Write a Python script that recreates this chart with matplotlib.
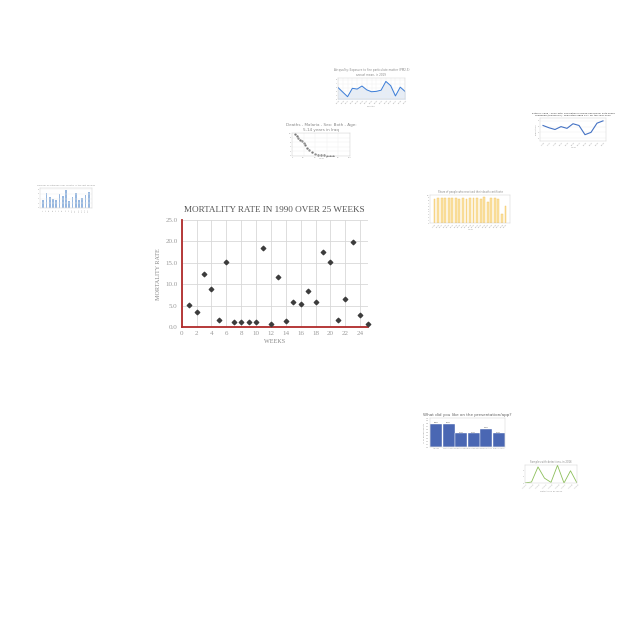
import matplotlib.pyplot as plt
import numpy as np

# Main chart data
weeks = list(range(1, 26))
mortality = [5.3, 3.5, 12.4, 9.0, 1.6, 15.1, 1.2, 1.3, 1.2, 1.2, 18.4, 0.85, 11.7, 1.55,
             5.9, 5.35, 8.5, 5.9, 17.6, 15.1, 1.7, 6.7, 19.8, 2.8, 0.7]
x_ticks = list(range(0, 25, 2))
y_ticks = [0, 5, 10, 15, 20, 25]

# Thumbnail data
air_vals = [6.0, 4.8, 3.6, 5.8, 5.6, 6.4, 5.4, 4.9, 5.0, 5.3, 7.6, 6.5, 3.8, 6.1, 5.0]
malaria_age = [5, 8, 11, 14, 17, 20, 23, 26, 30, 35, 40, 45, 50, 55, 60, 65, 70]
malaria_val = [9.5, 8.6, 7.8, 7.0, 6.6, 5.6, 4.6, 3.6, 2.6, 1.7, 1.0, 0.6, 0.4, 0.3, 0.2, 0.15, 0.1]
estonia_vals = [5.2, 4.8, 4.5, 5.0, 4.7, 5.5, 5.2, 3.6, 4.0, 5.6, 6.0]
yellow_vals = [8.6, 8.8, 8.9, 9.0, 8.8, 9.1, 8.8, 8.7, 8.9, 8.6, 9.1, 8.8, 9.0, 8.7, 9.2,
               7.6, 9.0, 9.1, 8.6, 3.2, 6.0]
blue_vals = [3.5, 6.5, 4.5, 3.8, 3.2, 5.8, 5.2, 7.8, 2.8, 4.8, 6.5, 3.5, 4.2, 5.5, 6.8]
like_labels = ["Interview", "Content feature", "Scientific feature", "Interactive feature",
               "Useful metrics", "Graphic design"]
like_vals = [0.81, 0.79, 0.47, 0.47, 0.63, 0.47]
green_vals = [0, 0.3, 5.0, 1.5, 0.2, 5.5, 0, 3.8, 0]

W = H = 640
fig = plt.figure(figsize=(6.4, 6.4), dpi=100)
fig.patch.set_facecolor("white")


def px_axes(x0, y0, x1, y1):
    return fig.add_axes([x0 / W, 1 - y1 / H, (x1 - x0) / W, (y1 - y0) / H])


serif = ["Liberation Serif", "DejaVu Serif"]
gray = "#9a9a9a"

# ============================ MAIN CHART =============================
ax = px_axes(181.7, 220, 367.6, 327.3)
ax.scatter(weeks, mortality, marker="D", s=5, color="#3c3c3c", zorder=3, clip_on=False)
ax.set_xlim(0, 25)
ax.set_ylim(0, 25)
ax.set_xticks(x_ticks)
ax.set_yticks(y_ticks)
ax.set_yticklabels([f"{v:.1f}" for v in y_ticks])
ax.set_xticks([25], minor=True)
ax.grid(True, which="both", color="#d8d8d8", linewidth=0.6)
ax.set_axisbelow(True)
for s in ["top", "right"]:
    ax.spines[s].set_visible(False)
for s in ["left", "bottom"]:
    ax.spines[s].set_color("#b02a2a")
    ax.spines[s].set_linewidth(1.3)
ax.tick_params(which="both", length=0, colors=gray, labelsize=5, pad=3)
for lab in ax.get_xticklabels() + ax.get_yticklabels():
    lab.set_family(serif)
ax.set_title("MORTALITY RATE IN 1990 OVER 25 WEEKS", family=serif, fontsize=6.6,
             color="#555555", pad=6)
ax.set_xlabel("WEEKS", family=serif, fontsize=4.4, color="#888888", labelpad=2)
ax.set_ylabel("MORTALITY RATE", family=serif, fontsize=4.4, color="#888888", labelpad=3)


def thumb_style(a, fs=1.4):
    a.tick_params(length=0, labelsize=fs, colors="#9a9a9a", pad=0.5)
    for s in a.spines.values():
        s.set_linewidth(0.3)
        s.set_color("#cccccc")


# ============================ THUMBNAILS =============================
# Air quality line chart (top centre)
a1 = px_axes(338, 78, 405, 99)
xs = np.arange(len(air_vals))
a1.plot(xs, air_vals, color="#3b7dd8", lw=0.7)
a1.fill_between(xs, air_vals, 0, color="#e6edf7")
a1.set_xlim(0, len(air_vals) - 1)
a1.set_ylim(3, 8.5)
a1.set_xticks(xs)
a1.set_xticklabels([str(2005 + i) for i in xs], rotation=45)
a1.set_yticks([3, 4, 5, 6, 7, 8])
a1.grid(True, color="#eeeeee", lw=0.3)
thumb_style(a1)
a1.set_title("Air quality: Exposure to fine particulate matter (PM2.5)\nannual mean, in 2019",
             fontsize=2, color="#888888", pad=1.5)
a1.set_xlabel("Country", fontsize=1.6, color="#999999", labelpad=1)

# Malaria scatter
a2 = px_axes(292, 133, 350, 156)
a2.scatter(malaria_age, malaria_val, s=0.5, color="#777777")
a2.set_xlim(0, 100)
a2.set_ylim(0, 10)
a2.grid(True, color="#eeeeee", lw=0.3)
thumb_style(a2)
a2.set_title("Deaths - Malaria - Sex: Both - Age:\n5-14 years in Iraq", fontsize=3,
             color="#888888", pad=1.5)
a2.set_xlabel("Year", fontsize=1.6, color="#999999", labelpad=0.5)

# Estonia line chart (right)
a3 = px_axes(540, 118, 606, 141)
xs = np.arange(len(estonia_vals))
a3.plot(xs, estonia_vals, color="#4472c4", lw=0.8)
a3.set_ylim(2.5, 6.5)
a3.set_xticks(xs)
a3.set_xticklabels([str(1995 + 2 * i) for i in xs], rotation=45)
a3.grid(True, axis="y", color="#eeeeee", lw=0.3)
thumb_style(a3)
a3.set_title("Estonia: 1995 - 2020 Total population in broad age group, both sexes\n"
             "combined (thousands) - Population aged 60+ for the year 2020",
             fontsize=1.7, color="#333333", pad=1.5)
a3.set_xlabel("Year", fontsize=1.6, color="#999999", labelpad=1)
a3.set_ylabel("Population", fontsize=1.6, color="#999999", labelpad=1)

# Yellow bar chart
a4 = px_axes(430, 195, 510, 223)
xs = np.arange(len(yellow_vals))
a4.bar(xs, yellow_vals, width=0.5, color="#fbe3a6", edgecolor="#f2c25a", lw=0.3)
a4.set_ylim(0, 10)
a4.set_xticks(xs)
a4.set_xticklabels([str(1999 + i) for i in xs], rotation=45)
a4.set_yticks(np.arange(0, 11))
thumb_style(a4)
a4.set_title("Share of people who received their death certificate", fontsize=1.8,
             color="#888888", pad=1.5)
a4.set_xlabel("Year", fontsize=1.6, color="#999999", labelpad=1)

# Left blue bar chart
a5 = px_axes(40, 188, 92, 208)
xs = np.arange(len(blue_vals))
a5.bar(xs, blue_vals, width=0.5, color="#98b8e0")
a5.set_ylim(0, 8.5)
a5.set_xticks(xs)
a5.set_xticklabels([f"C{i + 1}" for i in xs], rotation=90)
a5.grid(True, axis="y", color="#eeeeee", lw=0.3)
thumb_style(a5, 1.3)
a5.set_title("Number of outbreaks per country in the last decade", fontsize=1.6,
             color="#999999", pad=1.5)

# "What did you like" bar chart
a6 = px_axes(430, 418, 505, 447)
xs = np.arange(len(like_vals))
a6.bar(xs, like_vals, width=0.97, color="#4a67b3", edgecolor="white", lw=0.3)
for xi, v in zip(xs, like_vals):
    a6.text(xi, v + 0.03, f"{v:.0%}", ha="center", fontsize=1.6, color="#555555")
a6.set_xlim(-0.5, len(like_vals) - 0.5)
a6.set_ylim(0, 1)
a6.set_xticks(xs)
a6.set_xticklabels(like_labels, fontsize=1.1)
a6.set_yticks(np.arange(0, 1.01, 0.1))
thumb_style(a6)
a6.tick_params(axis="x", labelsize=1.1)
a6.set_title("What did you like on the presentation/app?", fontsize=3,
             color="#666666", pad=1.5)
a6.set_ylabel("% of Respondents", fontsize=1.6, color="#999999", labelpad=1)

# Green line chart
a7 = px_axes(525, 465, 577, 483)
xs = np.arange(len(green_vals))
a7.plot(xs, green_vals, color="#8cbf5a", lw=0.6)
a7.set_xlim(0, len(green_vals) - 1)
a7.set_ylim(0, 5.6)
a7.set_xticks(xs)
a7.set_xticklabels([f"Item {i + 1}" for i in xs], rotation=45)
thumb_style(a7)
a7.set_title("Samples with detections, in 2016", fontsize=1.8, color="#888888", pad=1.5)
a7.set_xlabel("Detections by week", fontsize=1.6, color="#999999", labelpad=1)

fig.savefig("out.png", dpi=100, facecolor="white")
